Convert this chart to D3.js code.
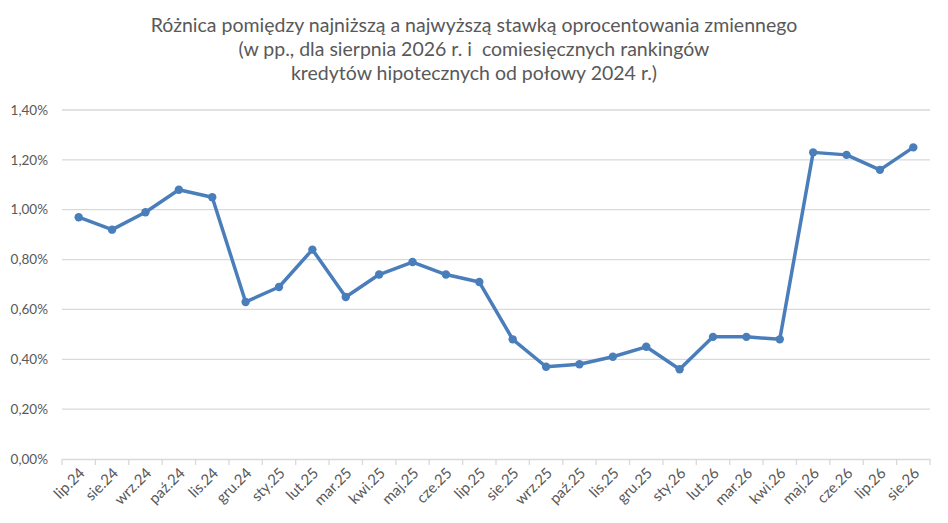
<!DOCTYPE html>
<html>
<head>
<meta charset="utf-8">
<script src="https://cdn.jsdelivr.net/npm/d3@7"></script>
<style>
  body { margin: 0; background: #fff; }
  text { font-family: Lato, "Open Sans", sans-serif; fill: #595959; white-space: pre; }
</style>
</head>
<body>
<div id="chart"></div>
<script>
// data
var months = ["lip.24", "sie.24", "wrz.24", "paź.24", "lis.24", "gru.24", "sty.25", "lut.25", "mar.25",
  "kwi.25", "maj.25", "cze.25", "lip.25", "sie.25", "wrz.25", "paź.25", "lis.25", "gru.25", "sty.26",
  "lut.26", "mar.26", "kwi.26", "maj.26", "cze.26", "lip.26", "sie.26"];
var spread = [0.97, 0.92, 0.99, 1.08, 1.05, 0.63, 0.69, 0.84, 0.65, 0.74, 0.79, 0.74, 0.71, 0.48,
  0.37, 0.38, 0.41, 0.45, 0.36, 0.49, 0.49, 0.48, 1.23, 1.22, 1.16, 1.25];
var yTicks = [0, 0.2, 0.4, 0.6, 0.8, 1.0, 1.2, 1.4];
var titleLines = [
  "Różnica pomiędzy najniższą a najwyższą stawką oprocentowania zmiennego",
  "(w pp., dla sierpnia 2026 r. i  comiesięcznych rankingów",
  "kredytów hipotecznych od połowy 2024 r.)"
];

var W = 948, H = 523;
var margin = { top: 110, right: 18, bottom: 64, left: 62 };
var width = W - margin.left - margin.right, height = H - margin.top - margin.bottom;

var root = d3.select("#chart").append("svg")
  .attr("width", W).attr("height", H);

// title
root.append("g").selectAll("text")
  .data(titleLines)
  .enter().append("text")
  .attr("x", W / 2)
  .attr("y", function (d, i) { return 32 + i * 24; })
  .attr("text-anchor", "middle")
  .style("font-size", "19.5px")
  .text(function (d) { return d; });

var svg = root.append("g")
  .attr("transform", "translate(" + margin.left + "," + margin.top + ")");

var x = d3.scaleBand().domain(months).range([0, width]);
var y = d3.scaleLinear().domain([0, 1.4]).range([height, 0]);

// grid
svg.append("g").selectAll("line")
  .data(yTicks.slice(1))
  .enter().append("line")
  .attr("x1", 0).attr("x2", width)
  .attr("y1", function (d) { return y(d); })
  .attr("y2", function (d) { return y(d); })
  .attr("stroke", "#d9d9d9").attr("stroke-width", 1.3);

// y axis labels
var fmt = function (d) { return d.toFixed(2).replace(".", ",") + "%"; };
svg.append("g").selectAll("text")
  .data(yTicks)
  .enter().append("text")
  .attr("x", -14)
  .attr("y", function (d) { return y(d); })
  .attr("dy", "0.35em")
  .attr("text-anchor", "end")
  .style("font-size", "13.5px")
  .text(fmt);

// x axis
var xAxis = svg.append("g")
  .attr("transform", "translate(0," + height + ")")
  .call(d3.axisBottom(x).tickSize(0).tickSizeOuter(0));
xAxis.attr("font-size", null).attr("font-family", null);
xAxis.select(".domain").attr("stroke", "#d9d9d9").attr("stroke-width", 1.3);
xAxis.selectAll(".tick line").remove();
xAxis.selectAll(".tick text")
  .style("font-size", "15px")
  .attr("fill", "#595959")
  .attr("text-anchor", "end")
  .attr("dy", null)
  .attr("y", 0)
  .attr("transform", "translate(7,15) rotate(-45)");

// category boundary ticks
var edges = months.map(function (m) { return x(m); }).concat([width]);
svg.append("g").selectAll("line")
  .data(edges)
  .enter().append("line")
  .attr("x1", function (d) { return d; }).attr("x2", function (d) { return d; })
  .attr("y1", height).attr("y2", height + 6)
  .attr("stroke", "#d9d9d9").attr("stroke-width", 1.3);

// line
var line = d3.line()
  .x(function (d, i) { return x(months[i]) + x.bandwidth() / 2; })
  .y(function (d) { return y(d); });

svg.append("path")
  .datum(spread)
  .attr("d", line)
  .attr("fill", "none")
  .attr("stroke", "#4a7ebb")
  .attr("stroke-width", 3.5)
  .attr("stroke-linejoin", "round");

svg.append("g").selectAll("circle")
  .data(spread)
  .enter().append("circle")
  .attr("cx", function (d, i) { return x(months[i]) + x.bandwidth() / 2; })
  .attr("cy", function (d) { return y(d); })
  .attr("r", 4.2)
  .attr("fill", "#4a7ebb");
</script>
</body>
</html>
